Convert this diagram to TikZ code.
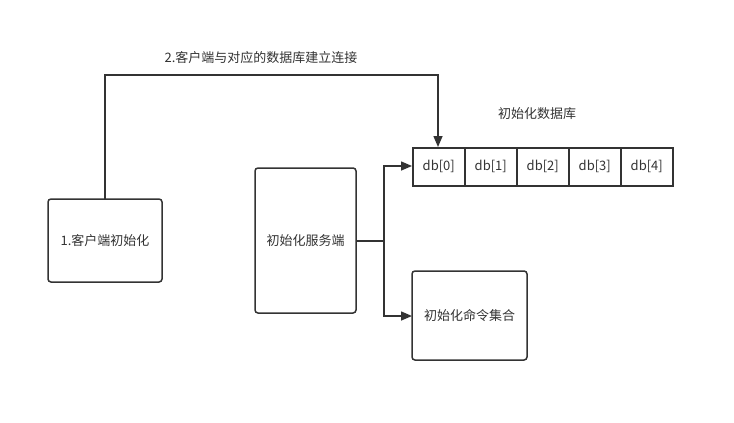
\documentclass[tikz,border=0pt]{standalone}
\usepackage{fontspec}
\setmainfont{Noto Sans CJK SC}
\usetikzlibrary{arrows.meta}
\definecolor{ln}{HTML}{333333}
\begin{document}
\begin{tikzpicture}[x=1pt,y=-1pt,
  every node/.style={font=\fontsize{13}{15}\selectfont, text=ln},
  rbox/.style={draw=ln, line width=1.5pt, rounded corners=3pt, fill=white},
  cell/.style={draw=ln, line width=1.5pt, minimum width=52pt, minimum height=38pt, inner sep=0pt, anchor=north west},
  conn/.style={draw=ln, line width=1.5pt, -{Triangle[length=11pt,width=9pt]}},
  plain/.style={draw=ln, line width=1.5pt}]
\useasboundingbox (0,0) rectangle (734,423);
\fill[white] (0,0) rectangle (734,423);
% boxes
\draw[rbox] (48,199) rectangle (162,282);
\node (client) at (105,241) {1.客户端初始化};
\coordinate (clienttop) at (105,199);
\draw[rbox] (255,168) rectangle (356,313);
\node (server) at (305.5,241) {初始化服务端};
\coordinate (serverR) at (356,241);
\draw[rbox] (412,271) rectangle (527,360);
\node (cmd) at (469.5,316) {初始化命令集合};
\coordinate (cmdL) at (412,316);
% db row shadow
\draw[gray!60, line width=1pt] (413,186.5) -- (672,186.5);
\node[cell] (db0) at (412,147) {db[0]};
\node[cell] (db1) at (464,147) {db[1]};
\node[cell] (db2) at (516,147) {db[2]};
\node[cell] (db3) at (568,147) {db[3]};
\node[cell] (db4) at (620,147) {db[4]};
\coordinate (db0top) at (438,147);
\coordinate (db0L) at (412,166);
% labels
\node (lbl1) at (261,58) {2.客户端与对应的数据库建立连接};
\node (lbl2) at (537,114) {初始化数据库};
% connectors
\draw[conn] (clienttop) -- (105,75) -- (438,75) -- (db0top);
\draw[plain] (serverR) -- (384,241);
\draw[conn] (384,241) -- (384,166) -- (db0L);
\draw[conn] (384,241) -- (384,316) -- (cmdL);
\end{tikzpicture}
\end{document}
